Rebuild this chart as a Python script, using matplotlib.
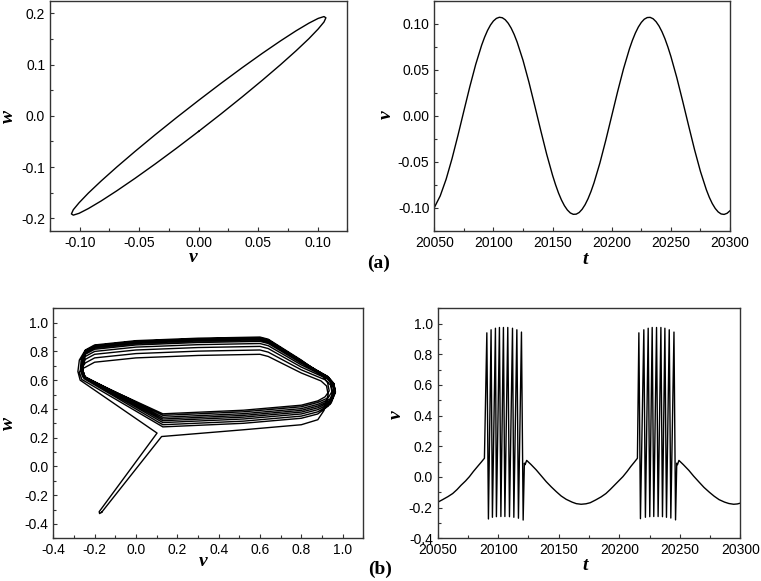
import matplotlib
matplotlib.use("Agg")
import matplotlib.pyplot as plt
from matplotlib.ticker import MultipleLocator, FixedLocator, FixedFormatter

plt.rcParams["font.family"] = ["Liberation Sans", "DejaVu Sans"]
plt.rcParams["axes.unicode_minus"] = False

# ---- (a) left: phase loop v-w (periodic, small amplitude)
a_loop_v = [0.0, 0.0186, 0.0366, 0.0535, 0.0688, 0.0820, 0.0927, 0.1005, 0.1054, 0.107,
            0.1054, 0.1005, 0.0927, 0.0820, 0.0688, 0.0535, 0.0366, 0.0186, 0.0,
            -0.0186, -0.0366, -0.0535, -0.0688, -0.0820, -0.0927, -0.1005, -0.1054, -0.107,
            -0.1054, -0.1005, -0.0927, -0.0820, -0.0688, -0.0535, -0.0366, -0.0186, 0.0]
a_loop_w = [-0.0303, 0.0034, 0.0370, 0.0695, 0.0999, 0.1273, 0.1508, 0.1697, 0.1834, 0.1916,
            0.1940, 0.1904, 0.1811, 0.1663, 0.1464, 0.1221, 0.0941, 0.0632, 0.0303,
            -0.0034, -0.0370, -0.0695, -0.0999, -0.1273, -0.1508, -0.1697, -0.1834, -0.1916,
            -0.1940, -0.1904, -0.1811, -0.1663, -0.1464, -0.1221, -0.0941, -0.0632, -0.0303]

# ---- (a) right: v(t)
a_t = [20050, 20055, 20060, 20065, 20070, 20075, 20080, 20085, 20090, 20092.5,
       20095, 20097.5, 20100, 20102.5, 20105, 20107.5, 20110, 20112.5, 20115, 20117.5,
       20120, 20125, 20130, 20135, 20140, 20145, 20150, 20152.5, 20155, 20157.5,
       20160, 20162.5, 20165, 20167.5, 20170, 20172.5, 20175, 20177.5, 20180, 20182.5,
       20185, 20190, 20195, 20200, 20205, 20210, 20215, 20217.5, 20220, 20222.5,
       20225, 20227.5, 20230, 20232.5, 20235, 20237.5, 20240, 20242.5, 20245, 20247.5,
       20250, 20255, 20260, 20265, 20270, 20275, 20280, 20282.5, 20285, 20287.5,
       20290, 20292.5, 20295, 20297.5, 20300]
a_v = [-0.0996, -0.0869, -0.0688, -0.0464, -0.0212, 0.0053, 0.0315, 0.0558, 0.0766, 0.0853,
       0.0927, 0.0986, 0.1030, 0.1058, 0.1070, 0.1065, 0.1043, 0.1005, 0.0952, 0.0884,
       0.0802, 0.0603, 0.0366, 0.0106, -0.0159, -0.0416, -0.0646, -0.0747, -0.0837, -0.0913,
       -0.0975, -0.1022, -0.1054, -0.1069, -0.1067, -0.1049, -0.1014, -0.0964, -0.0899, -0.0820,
       -0.0728, -0.0512, -0.0264, 0.0, 0.0264, 0.0512, 0.0728, 0.0820, 0.0899, 0.0964,
       0.1014, 0.1049, 0.1067, 0.1069, 0.1054, 0.1022, 0.0975, 0.0913, 0.0837, 0.0747,
       0.0646, 0.0416, 0.0159, -0.0106, -0.0366, -0.0603, -0.0802, -0.0884, -0.0952, -0.1005,
       -0.1043, -0.1065, -0.1070, -0.1058, -0.1030]

# ---- (b) left: bursting trajectory in the v-w plane
b_pre_v = [-0.166]
b_pre_w = [-0.319]
b_loops_v = [
    [0.124, 0.52, 0.80, 0.88, 0.91, 0.93, 0.922, 0.895, 0.80, 0.64, 0.60, 0.30, 0.0, -0.20, -0.245, -0.266, -0.274, -0.262],
    [0.13, 0.52, 0.80, 0.88, 0.93, 0.95, 0.942, 0.915, 0.80, 0.64, 0.60, 0.30, 0.0, -0.20, -0.245, -0.257, -0.263, -0.251],
    [0.13, 0.52, 0.80, 0.88, 0.94, 0.96, 0.952, 0.925, 0.80, 0.64, 0.60, 0.30, 0.0, -0.20, -0.245, -0.255, -0.259, -0.247],
    [0.13, 0.52, 0.80, 0.88, 0.945, 0.965, 0.957, 0.93, 0.80, 0.64, 0.60, 0.30, 0.0, -0.20, -0.245, -0.256, -0.258, -0.246],
    [0.13, 0.52, 0.80, 0.88, 0.945, 0.965, 0.957, 0.93, 0.80, 0.64, 0.60, 0.30, 0.0, -0.20, -0.245, -0.257, -0.258, -0.246],
    [0.13, 0.52, 0.80, 0.88, 0.945, 0.965, 0.957, 0.93, 0.80, 0.64, 0.60, 0.30, 0.0, -0.20, -0.245, -0.258, -0.259, -0.247],
    [0.13, 0.52, 0.80, 0.88, 0.94, 0.96, 0.952, 0.925, 0.80, 0.64, 0.60, 0.30, 0.0, -0.20, -0.245, -0.261, -0.263, -0.251],
    [0.13, 0.52, 0.80, 0.88, 0.93, 0.95, 0.942, 0.915, 0.80, 0.64, 0.60, 0.30, 0.0, -0.20, -0.245, -0.265, -0.269, -0.257],
    [0.13, 0.52, 0.80, 0.88, 0.915, 0.935, 0.927, 0.90, 0.80, 0.64, 0.60, 0.30, 0.0, -0.20, -0.245, -0.274, -0.281, -0.27],
]
b_loops_w = [
    [0.208, 0.255, 0.29, 0.325, 0.39, 0.50, 0.56, 0.595, 0.65, 0.765, 0.78, 0.772, 0.755, 0.725, 0.69, 0.675, 0.655, 0.605],
    [0.275, 0.30, 0.335, 0.365, 0.42, 0.505, 0.565, 0.603, 0.672, 0.795, 0.81, 0.802, 0.785, 0.755, 0.72, 0.695, 0.66, 0.61],
    [0.29, 0.315, 0.35, 0.38, 0.432, 0.51, 0.57, 0.61, 0.691, 0.82, 0.835, 0.827, 0.81, 0.78, 0.745, 0.71, 0.665, 0.615],
    [0.305, 0.33, 0.365, 0.395, 0.443, 0.515, 0.573, 0.615, 0.706, 0.84, 0.855, 0.847, 0.83, 0.80, 0.765, 0.72, 0.67, 0.62],
    [0.318, 0.343, 0.378, 0.408, 0.453, 0.518, 0.576, 0.62, 0.718, 0.855, 0.87, 0.862, 0.845, 0.815, 0.78, 0.73, 0.672, 0.622],
    [0.33, 0.355, 0.39, 0.42, 0.462, 0.52, 0.578, 0.624, 0.725, 0.865, 0.88, 0.872, 0.855, 0.825, 0.79, 0.735, 0.674, 0.624],
    [0.342, 0.367, 0.402, 0.432, 0.47, 0.522, 0.58, 0.628, 0.731, 0.873, 0.888, 0.88, 0.863, 0.833, 0.798, 0.74, 0.675, 0.625],
    [0.355, 0.38, 0.415, 0.445, 0.477, 0.524, 0.582, 0.632, 0.736, 0.88, 0.895, 0.887, 0.87, 0.84, 0.805, 0.745, 0.672, 0.622],
    [0.366, 0.391, 0.426, 0.456, 0.484, 0.525, 0.584, 0.636, 0.74, 0.885, 0.90, 0.892, 0.875, 0.845, 0.81, 0.74, 0.66, 0.60],
]
b_post_v = [0.102, -0.178, -0.176, -0.166]
b_post_w = [0.232, -0.315, -0.328, -0.319]

# ---- (b) right: v(t) with two bursts
b_pre_t = [20050, 20054, 20058.5, 20062.4, 20066, 20069.3, 20073, 20076.2, 20079.5, 20083.1, 20086, 20088.6]
b_pre_vt = [-0.165, -0.148, -0.128, -0.108, -0.082, -0.054, -0.026, 0.002, 0.036, 0.070, 0.097, 0.122]
burst1_peak_t = [20090.6, 20094.1, 20097.7, 20101.0, 20104.3, 20107.9, 20111.8, 20115.4, 20119.2]
burst1_trough_t = [20091.9, 20095.2, 20098.5, 20102.2, 20105.5, 20109.3, 20112.9, 20116.7, 20120.6]
burst2_peak_t = [20216.2, 20220.3, 20223.9, 20227.2, 20230.8, 20234.4, 20237.7, 20241.3, 20245.2]
burst2_trough_t = [20217.5, 20221.6, 20225.2, 20228.5, 20232.1, 20235.7, 20239.0, 20242.6, 20246.5]
burst_peak_v = [0.94, 0.96, 0.97, 0.975, 0.975, 0.975, 0.97, 0.96, 0.945]
burst1_trough_v = [-0.274, -0.263, -0.259, -0.258, -0.258, -0.259, -0.263, -0.269, -0.281]
burst2_trough_v = [-0.272, -0.263, -0.259, -0.258, -0.258, -0.259, -0.263, -0.268, -0.280]
quiet1_t = [20121.6, 20122.2, 20123.5, 20127.0, 20131.4, 20135.5, 20139.7, 20144.0, 20148.0,
            20152.0, 20156.2, 20161.0, 20164.5, 20168.5, 20172.5, 20176.0, 20180.5, 20185.0,
            20189.0, 20192.5, 20196.0, 20199.5, 20203.0, 20206.5, 20209.5, 20212.5, 20215.0]
quiet1_v = [0.09, 0.08, 0.108, 0.082, 0.046, 0.008, -0.031, -0.066, -0.096,
            -0.124, -0.146, -0.164, -0.174, -0.178, -0.175, -0.168, -0.150, -0.130,
            -0.108, -0.082, -0.054, -0.026, 0.002, 0.036, 0.068, 0.097, 0.122]
quiet2_t = [20247.5, 20248.1, 20249.3, 20253.0, 20257.5, 20261.5, 20266.0, 20270.0,
            20274.5, 20278.5, 20282.5, 20287.0, 20290.5, 20294.5, 20297.5, 20300.0]
quiet2_v = [0.09, 0.08, 0.108, 0.080, 0.043, 0.005, -0.034, -0.068,
            -0.100, -0.126, -0.148, -0.164, -0.173, -0.178, -0.176, -0.171]

# tick labels
a_left_xticks = [-0.10, -0.05, 0.00, 0.05, 0.10]
a_left_xlabels = ["-0.10", "-0.05", "0.00", "0.05", "0.10"]
a_left_yticks = [-0.2, -0.1, 0.0, 0.1, 0.2]
a_left_ylabels = ["-0.2", "-0.1", "0.0", "0.1", "0.2"]
t_ticks = [20050, 20100, 20150, 20200, 20250, 20300]
t_labels = ["20050", "20100", "20150", "20200", "20250", "20300"]
a_right_yticks = [-0.10, -0.05, 0.00, 0.05, 0.10]
a_right_ylabels = ["-0.10", "-0.05", "0.00", "0.05", "0.10"]
b_ticks = [-0.4, -0.2, 0.0, 0.2, 0.4, 0.6, 0.8, 1.0]
b_labels = ["-0.4", "-0.2", "0.0", "0.2", "0.4", "0.6", "0.8", "1.0"]


def interleave(a, b):
    out = []
    for x, y in zip(a, b):
        out += [x, y]
    return out


b_traj_v = list(b_pre_v)
b_traj_w = list(b_pre_w)
for lv, lw in zip(b_loops_v, b_loops_w):
    b_traj_v += lv
    b_traj_w += lw
b_traj_v += b_post_v
b_traj_w += b_post_w

b_t = (b_pre_t + interleave(burst1_peak_t, burst1_trough_t) + quiet1_t
       + interleave(burst2_peak_t, burst2_trough_t) + quiet2_t)
b_v = (b_pre_vt + interleave(burst_peak_v, burst1_trough_v) + quiet1_v
       + interleave(burst_peak_v, burst2_trough_v) + quiet2_v)

W, H = 761, 581
fig = plt.figure(figsize=(W / 100, H / 100), dpi=100)


def rect(l, t, r, b):
    return [l / W, 1 - b / H, (r - l) / W, (b - t) / H]


ax1 = fig.add_axes(rect(50, 0.7, 347.3, 231))
ax2 = fig.add_axes(rect(434.3, 0.7, 730, 231))
ax3 = fig.add_axes(rect(53.3, 308.3, 363.3, 538.3))
ax4 = fig.add_axes(rect(437.7, 308.3, 740.3, 538.3))

lc = "black"
lw = 1.0
ax1.plot(a_loop_v, a_loop_w, color=lc, lw=lw)
ax2.plot(a_t, a_v, color=lc, lw=lw)
ax3.plot(b_traj_v, b_traj_w, color=lc, lw=lw)
ax4.plot(b_t, b_v, color=lc, lw=lw)


def style(ax, xt, xl, yt, yl, xminor, yminor, xlim, ylim):
    ax.set_xlim(*xlim)
    ax.set_ylim(*ylim)
    ax.xaxis.set_major_locator(FixedLocator(xt))
    ax.xaxis.set_major_formatter(FixedFormatter(xl))
    ax.yaxis.set_major_locator(FixedLocator(yt))
    ax.yaxis.set_major_formatter(FixedFormatter(yl))
    ax.xaxis.set_minor_locator(MultipleLocator(xminor))
    ax.yaxis.set_minor_locator(MultipleLocator(yminor))
    for s in ax.spines.values():
        s.set_color("#333333")
        s.set_linewidth(1.0)
    ax.tick_params(which="both", direction="in", top=False, right=False,
                   color="#333333", width=0.8)
    ax.tick_params(which="major", length=3.2, pad=3.5, labelsize=10)
    ax.tick_params(which="minor", length=2.2)


style(ax1, a_left_xticks, a_left_xlabels, a_left_yticks, a_left_ylabels,
      0.025, 0.05, (-0.125, 0.125), (-0.225, 0.225))
style(ax2, t_ticks, t_labels, a_right_yticks, a_right_ylabels,
      25, 0.025, (20050, 20300), (-0.125, 0.125))
style(ax3, b_ticks, b_labels, b_ticks, b_labels,
      0.1, 0.1, (-0.4, 1.1), (-0.5, 1.1))
style(ax4, t_ticks, t_labels, b_ticks, b_labels,
      25, 0.1, (20050, 20300), (-0.4, 1.1))

lab = dict(family=["Liberation Serif", "DejaVu Serif"], weight="bold",
           style="italic", size=14, ha="center", va="center")
panel = dict(family=["Liberation Serif", "DejaVu Serif"], weight="bold",
             size=14, ha="center", va="center")


def ftext(x, y, s, **kw):
    fig.text(x / W, 1 - y / H, s, **kw)


ftext(193, 257, "v", **lab)
ftext(8, 117, "w", rotation=90, **lab)
ftext(585, 259, "t", **lab)
ftext(386, 115, "v", rotation=90, **lab)
ftext(203, 562, "v", **lab)
ftext(8.5, 424, "w", rotation=90, **lab)
ftext(585, 565, "t", **lab)
ftext(396, 415, "v", rotation=90, **lab)
ftext(379, 263, "(a)", **panel)
ftext(380, 569, "(b)", **panel)

fig.savefig("out.png", dpi=100)
